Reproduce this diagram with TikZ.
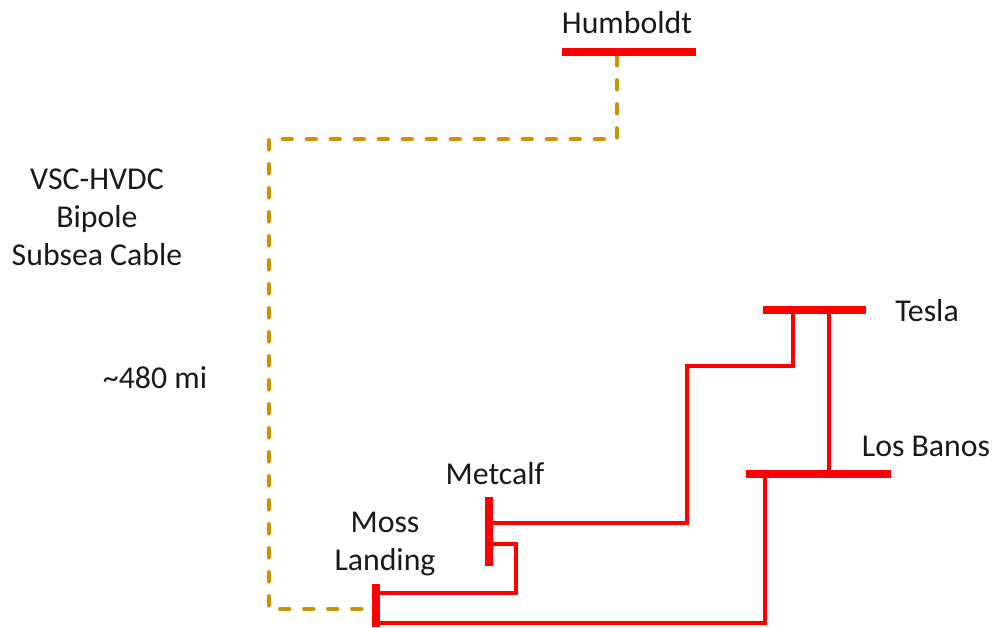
\documentclass[tikz,border=0pt]{standalone}
\usepackage{fontspec}
\setmainfont{Carlito}
\begin{document}
\begin{tikzpicture}[x=1pt,y=-1pt,
 bus/.style={draw=red,line width=7.6pt},
 ac/.style={draw=red,line width=3.8pt,line join=miter},
 dc/.style={draw=dcgold,line width=4pt,line cap=round,dash pattern=on 9.5pt off 14.5pt},
 lbl/.style={font=\fontsize{31.8}{38}\selectfont,align=center,inner sep=0pt,text=black!90}]
\definecolor{dcgold}{RGB}{198,148,6}
\useasboundingbox (0,0) rectangle (993,627);
\coordinate (hl) at (562,52); \coordinate (hr) at (696,52);
\coordinate (tl) at (763,310); \coordinate (tr) at (866,310);
\coordinate (ll) at (746,474); \coordinate (lr) at (891,474);
\coordinate (mt) at (489,497); \coordinate (mb) at (489,566);
\coordinate (st) at (376,584); \coordinate (sb) at (376,627);
\draw[dc] (617,56)--(617,139)--(269,139)--(269,609)--(372,609);
\draw[ac] (793,310)--(793,366)--(687,366)--(687,523)--(489,523);
\draw[ac] (829,310)--(829,474);
\draw[ac] (489,544)--(516,544)--(516,593)--(376,593);
\draw[ac] (765,474)--(765,623)--(376,623);
\draw[bus] (hl)--(hr);
\draw[bus] (tl)--(tr);
\draw[bus] (ll)--(lr);
\draw[bus] (mt)--(mb);
\draw[bus] (st)--(sb);
\node[lbl] (n1) at (627,23) {Humboldt};
\node[lbl] (n2) at (927,311) {Tesla};
\node[lbl] (n3) at (926,446) {Los Banos};
\node[lbl] (n4) at (495,474) {Metcalf};
\node[lbl] (n5) at (385,544) {Moss\\Landing};
\node[lbl] (n6) at (97,217) {VSC-HVDC\\Bipole\\Subsea Cable};
\node[lbl] (n7) at (155,378) {\textasciitilde480 mi};
\end{tikzpicture}
\end{document}
